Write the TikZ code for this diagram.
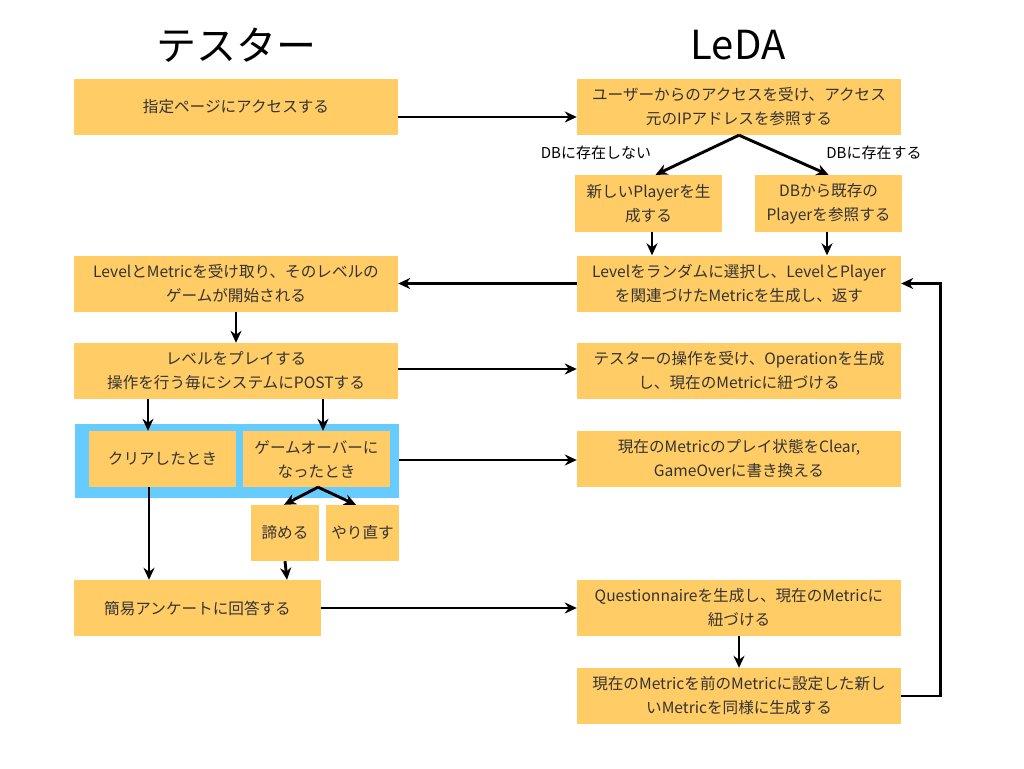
\documentclass[tikz,border=0pt]{standalone}
\usepackage{fontspec}
\setmainfont{Noto Sans CJK JP}
\usetikzlibrary{arrows.meta}
\definecolor{boxfill}{RGB}{255,204,102}
\definecolor{grpblue}{RGB}{102,204,255}
\definecolor{txt}{RGB}{51,51,51}
\tikzset{
  box/.style={fill=boxfill, draw=none, inner sep=0pt, align=center, text=txt,
    font=\fontsize{15.6}{24}\selectfont},
  wide/.style={box, minimum width=324pt, minimum height=56pt},
  arr/.style={-{Stealth[length=12pt,width=11pt]}, line width=2.9pt, black},
  lbl/.style={font=\fontsize{15}{18}\selectfont, text=black, inner sep=0pt},
  ttl/.style={font=\fontsize{40}{44}\selectfont, text=black, inner sep=0pt}
}
\begin{document}
\begin{tikzpicture}[x=1pt,y=-1pt]
\useasboundingbox[fill=white] (0,0) rectangle (1024,768);
% titles
\node[ttl] (t1) at (236,45) {テスター};
\node[ttl] (t2) at (738,45) {LeDA};
% group
\node[fill=grpblue, draw=none, minimum width=324pt, minimum height=74pt, inner sep=0pt] (grp) at (237,461) {};
% left column
\node[wide] (acc) at (236,107) {指定ページにアクセスする};
\node[wide] (lvl) at (236,283.5) {LevelとMetricを受け取り、そのレベルの\\ゲームが開始される};
\node[wide] (play) at (236,371) {レベルをプレイする\\操作を行う毎にシステムにPOSTする};
\node[box, minimum width=147pt, minimum height=56pt] (clr) at (162.5,459) {クリアしたとき};
\node[box, minimum width=147pt, minimum height=56pt] (gov) at (316.5,459) {ゲームオーバーに\\なったとき};
\node[box, minimum width=68pt, minimum height=56pt] (giv) at (285,533) {諦める};
\node[box, minimum width=73pt, minimum height=56pt] (rty) at (362.5,533) {やり直す};
\node[box, minimum width=247pt, minimum height=56pt] (ank) at (197.5,608) {簡易アンケートに回答する};
% right column
\node[wide] (usr) at (739,107) {ユーザーからのアクセスを受け、アクセス\\元のIPアドレスを参照する};
\node[box, minimum width=147pt, minimum height=57pt] (newp) at (648.5,203.5) {新しいPlayerを生\\成する};
\node[box, minimum width=147pt, minimum height=57pt] (dbp) at (828.5,203.5) {DBから既存の\\Playerを参照する};
\node[wide] (lvr) at (739,283.5) {Levelをランダムに選択し、LevelとPlayer\\を関連づけたMetricを生成し、返す};
\node[wide] (opr) at (739,371) {テスターの操作を受け、Operationを生成\\し、現在のMetricに紐づける};
\node[wide] (stt) at (739,459) {現在のMetricのプレイ状態をClear,\\GameOverに書き換える};
\node[wide] (qst) at (739,608) {Questionnaireを生成し、現在のMetricに\\紐づける};
\node[wide] (nxt) at (739,696) {現在のMetricを前のMetricに設定した新し\\いMetricを同様に生成する};
% labels
\node[lbl] (l1) at (596,153) {DBに存在しない};
\node[lbl] (l2) at (874,153) {DBに存在する};
% arrows
\draw[arr] (acc.east |- 0,117) -- (usr.west |- 0,117);
\draw[arr] (usr.south) -- ([xshift=7pt]newp.north);
\draw[arr] (usr.south) -- (dbp.north);
\draw[arr] (newp.south -| 652,0) -- (lvr.north -| 652,0);
\draw[arr] (dbp.south -| 827,0) -- (lvr.north -| 827,0);
\draw[arr] (lvr.west) -- (lvl.east);
\draw[arr] (nxt.east) -- ++(39,0) |- (lvr.east);
\draw[arr] (lvl.south) -- (play.north);
\draw[arr] (play.east |- 0,369) -- (opr.west |- 0,369);
\draw[arr] (play.south -| 148,0) -- (clr.north -| 148,0);
\draw[arr] (play.south -| 323,0) -- (gov.north -| 323,0);
\draw[arr] (grp.east |- 0,460) -- (stt.west |- 0,460);
\draw[arr] (clr.south -| 149,0) -- (ank.north -| 149,0);
\draw[arr] (gov.south -| 318,0) -- (giv.north -| 284,0);
\draw[arr] (gov.south -| 318,0) -- (rty.north -| 356,0);
\draw[arr] (giv.south) -- (ank.north -| 287,0);
\draw[arr] (ank.east) -- (qst.west);
\draw[arr] (qst.south) -- (nxt.north);
\end{tikzpicture}
\end{document}
